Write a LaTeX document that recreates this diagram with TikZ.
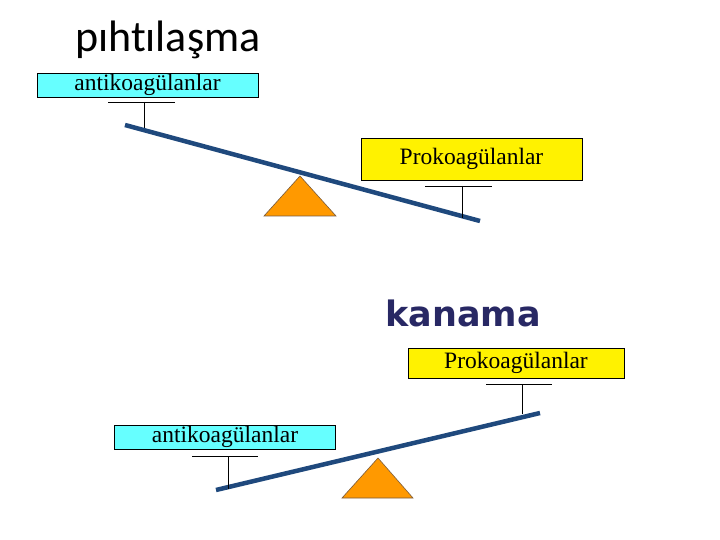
\documentclass[tikz,border=0pt]{standalone}
\usepackage{fontspec}
\setmainfont{Liberation Serif}
\newfontfamily\titlefont[Ligatures={NoCommon,NoRequired,NoContextual}]{Carlito}
\newfontfamily\kfont{DejaVu Sans}
\begin{document}
\begin{tikzpicture}[x=1pt,y=-1pt,
  cbox/.style={draw=black,fill={rgb,255:red,102;green,255;blue,255},minimum width=221pt,minimum height=24pt,inner sep=0pt,font=\fontsize{23.5}{24}\selectfont},
  ybox/.style={draw=black,fill=yellow,inner sep=0pt,font=\fontsize{23.5}{24}\selectfont},
  beam/.style={draw={rgb,255:red,31;green,73;blue,125},line width=4.5pt},
  tri/.style={draw={rgb,255:red,120;green,90;blue,60},fill={rgb,255:red,255;green,153;blue,0},line width=0.6pt},
  thin/.style={draw=black,line width=0.6pt}]
\useasboundingbox[fill=white] (0,0) rectangle (720,540);
\node[font=\titlefont\fontsize{44}{48}\selectfont,anchor=west,inner sep=0pt] (t1) at (75,40) {pıhtılaşma};
\node[cbox,minimum width=221pt,minimum height=24pt] (a1) at (147.5,85) {antikoagülanlar};
\coordinate (h1a) at (108,102); \coordinate (h1b) at (175,102);
\coordinate (v1) at (144,102); \coordinate (v1e) at (144,128);
\draw[thin] (h1a) -- (h1b); \draw[thin] (v1) -- (v1e);
\coordinate (b1s) at (125,125); \coordinate (b1e) at (480,221);
\coordinate (p1a) at (300,176); \coordinate (p1b) at (264,216); \coordinate (p1c) at (336,216);
\draw[tri] (p1a) -- (p1b) -- (p1c) -- cycle;
\draw[beam] (b1s) -- (b1e);
\node[ybox,minimum width=221pt,minimum height=42pt] (y1) at (471.5,159) {Prokoagülanlar};
\coordinate (h2a) at (425,186); \coordinate (h2b) at (492,186);
\coordinate (v2) at (462,186); \coordinate (v2e) at (462,218);
\draw[thin] (h2a) -- (h2b); \draw[thin] (v2) -- (v2e);

\node[font=\kfont\bfseries\fontsize{35}{38}\selectfont,text={rgb,255:red,40;green,40;blue,100},anchor=west,inner sep=0pt] (t2) at (385,313) {kanama};
\node[ybox,minimum width=216pt,minimum height=30pt] (y2) at (516,363) {Prokoagülanlar};
\coordinate (h3a) at (486,384); \coordinate (h3b) at (552,384);
\coordinate (v3) at (522,384); \coordinate (v3e) at (522,414);
\draw[thin] (h3a) -- (h3b); \draw[thin] (v3) -- (v3e);
\coordinate (p2a) at (378,458); \coordinate (p2b) at (342,498); \coordinate (p2c) at (413,498);
\draw[tri] (p2a) -- (p2b) -- (p2c) -- cycle;
\coordinate (b2s) at (216,490); \coordinate (b2e) at (540,413);
\draw[beam] (b2s) -- (b2e);
\node[cbox] (a2) at (225,437) {antikoagülanlar};
\coordinate (h4a) at (192,456); \coordinate (h4b) at (258,456);
\coordinate (v4) at (228,456); \coordinate (v4e) at (228,489);
\draw[thin] (h4a) -- (h4b); \draw[thin] (v4) -- (v4e);
\end{tikzpicture}
\end{document}
